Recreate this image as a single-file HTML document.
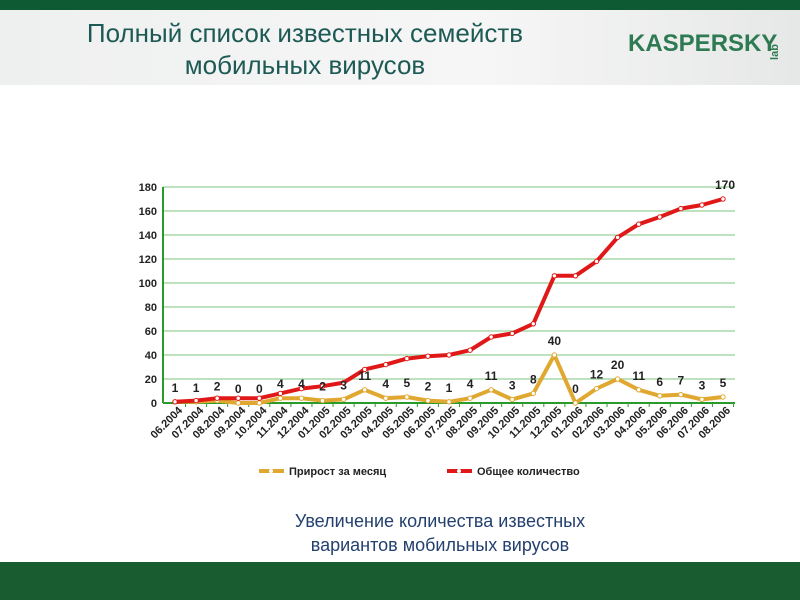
<!DOCTYPE html>
<html><head><meta charset="utf-8">
<style>
body{margin:0;width:800px;height:600px;overflow:hidden;background:#fff;font-family:"Liberation Sans",sans-serif;position:relative}
.top{position:absolute;left:0;top:0;width:800px;height:10px;background:#0d5a33}
.hdr{position:absolute;left:0;top:10px;width:800px;height:75px;background:linear-gradient(90deg,#eef0ef,#f6f6f6 60%,#e6e8e7)}
.title{position:absolute;left:20px;top:17px;width:570px;text-align:center;color:#1d5a55;font-size:26px;line-height:32px}
.logo{position:absolute;left:628px;top:30px;color:#2e7a52;font-size:24px;font-weight:bold;letter-spacing:0px;white-space:nowrap}
.lab{position:absolute;left:767px;top:46px;color:#2e7a52;font-size:11px;font-weight:bold;transform:rotate(-90deg)}
.sub{position:absolute;left:240px;top:509px;width:400px;text-align:center;color:#24406e;font-size:18px;line-height:24px}
.bot{position:absolute;left:0;top:562px;width:800px;height:38px;background:#185c30}
</style></head><body>
<div class="top"></div>
<div class="hdr"></div>
<div class="title">Полный список известных семейств<br>мобильных вирусов</div>
<div class="logo">KASPERSKY</div>
<div class="lab">lab</div>
<svg id="chart" width="800" height="600" style="position:absolute;left:0;top:0"></svg>
<div class="sub">Увеличение количества известных<br>вариантов мобильных вирусов</div>
<div class="bot"></div>
<script>
const categories=["06.2004","07.2004","08.2004","09.2004","10.2004","11.2004","12.2004","01.2005","02.2005","03.2005","04.2005","05.2005","06.2005","07.2005","08.2005","09.2005","10.2005","11.2005","12.2005","01.2006","02.2006","03.2006","04.2006","05.2006","06.2006","07.2006","08.2006"];
const monthly=[1,1,2,0,0,4,4,2,3,11,4,5,2,1,4,11,3,8,40,0,12,20,11,6,7,3,5];
const total=[1,2,4,4,4,8,12,14,17,28,32,37,39,40,44,55,58,66,106,106,118,138,149,155,162,165,170];
const yTicks=[0,20,40,60,80,100,120,140,160,180];
const NS="http://www.w3.org/2000/svg";
const svg=document.getElementById('chart');
const X0=163,X1=735,Y0=403,Y1=187;
const xs=i=>175+i*(723-175)/(categories.length-1);
const ys=v=>Y0-(v/180)*(Y0-Y1);
function mk(t,a,p){const e=document.createElementNS(NS,t);for(const k in a)e.setAttribute(k,a[k]);(p||svg).appendChild(e);return e;}
yTicks.forEach(v=>{
  const l=mk('line',{x1:X0,x2:X1,y1:ys(v),y2:ys(v),stroke:v?'#a8d8a8':'#2a9a2a','stroke-width':v?1.5:2});
  
  
  const t=mk('text',{x:157,y:ys(v)+4,'text-anchor':'end','font-size':11,'font-weight':'bold',fill:'#222'});
  t.textContent=v;
  
  
});
mk('line',{x1:X0,x2:X0,y1:Y1,y2:Y0,stroke:'#2a9a2a','stroke-width':2});
categories.forEach((c,i)=>{
  mk('line',{x1:xs(i)+10.5,x2:xs(i)+10.5,y1:Y0,y2:Y0+4,stroke:'#2a9a2a'});
  const t=mk('text',{x:xs(i)+8,y:411,'text-anchor':'end','font-size':11,'font-weight':'bold',fill:'#222',transform:`rotate(-45 ${xs(i)+8} 411)`});
  t.textContent=c;
  
  
});
function series(vals,col,name){
  const p=mk('polyline',{points:vals.map((v,i)=>xs(i)+','+ys(v)).join(' '),fill:'none',stroke:col,'stroke-width':4,'stroke-linejoin':'round'});
  
  
  vals.forEach((v,i)=>{
    const c=mk('circle',{cx:xs(i),cy:ys(v),r:2.2,fill:'#fff',stroke:col,'stroke-width':1});
    
    
  });
}
series(monthly,'#e0a830','monthly');
series(total,'#e01818','total');
monthly.forEach((v,i)=>{
  const t=mk('text',{x:xs(i),y:ys(v)-10,'text-anchor':'middle','font-size':12,'font-weight':'bold',fill:'#222'});
  t.textContent=v;
  
  
});
const last=total.length-1;
const tl=mk('text',{x:xs(last)+2,y:ys(total[last])-10,'text-anchor':'middle','font-size':12,'font-weight':'bold',fill:'#222'});
tl.textContent=total[last];


const lg=mk('g',{});


mk('line',{x1:259,x2:284,y1:471,y2:471,stroke:'#e0a830','stroke-width':4},lg);
mk('circle',{cx:271,cy:471,r:2,fill:'#fff'},lg);
const t1=mk('text',{x:289,y:475,'font-size':11,'font-weight':'bold',fill:'#222'},lg);t1.textContent='Прирост за месяц';
mk('line',{x1:447,x2:472,y1:471,y2:471,stroke:'#e01818','stroke-width':4},lg);
mk('circle',{cx:459,cy:471,r:2,fill:'#fff'},lg);
const t2=mk('text',{x:477,y:475,'font-size':11,'font-weight':'bold',fill:'#222'},lg);t2.textContent='Общее количество';
</script>
</body></html>
